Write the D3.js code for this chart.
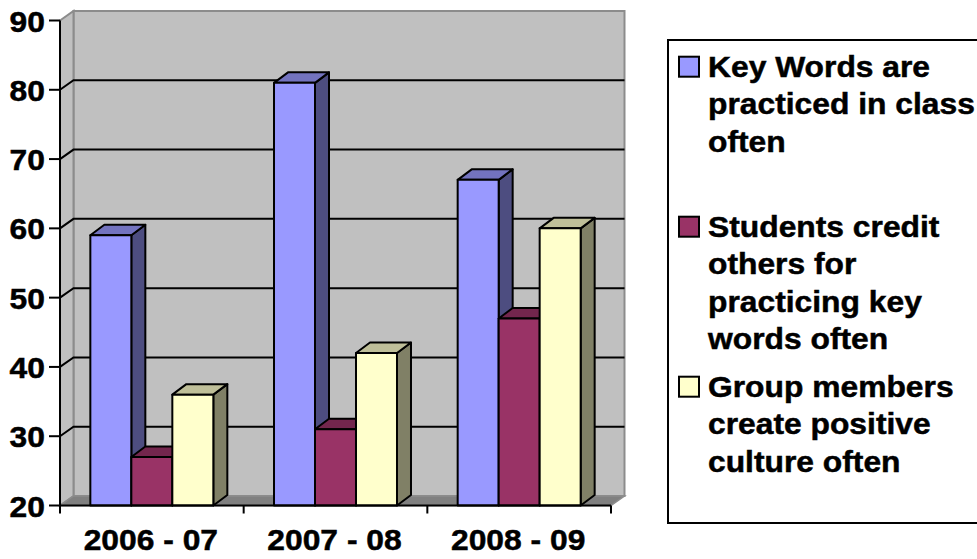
<!DOCTYPE html>
<html>
<head>
<meta charset="utf-8">
<script src="https://cdn.jsdelivr.net/npm/d3@7"></script>
<style>
body { margin: 0; background: #fff; }
text { font-family: "Liberation Sans", Arial, sans-serif; font-weight: bold; font-size: 30px; fill: #000; stroke: #000; stroke-width: 0.5px; }
</style>
</head>
<body>
<div id="chart"></div>
<script>
// chart data
var categories = ["2006 - 07", "2007 - 08", "2008 - 09"];
var seriesNames = [
  ["Key Words are", "practiced in class", "often"],
  ["Students credit", "others for", "practicing key", "words often"],
  ["Group members", "create positive", "culture often"]
];
var keyWords = [59, 81, 67];
var studentsCredit = [27, 31, 47];
var groupMembers = [36, 42, 60];
var yTicks = [20, 30, 40, 50, 60, 70, 80, 90];

var series = [keyWords, studentsCredit, groupMembers];
var front = ["#9999FF", "#993366", "#FFFFCC"];
var topC = ["#7373BF", "#73264D", "#BFBF99"];
var sideC = ["#4D4D80", "#4D1A33", "#808066"];

var width = 977, height = 559;
var svg = d3.select("#chart").append("svg").attr("width", width).attr("height", height);

var left = 60, right = 611, wdx = 13.5, wdy = -9.5; // wall depth
var bdx = 14, bdy = -10.5; // bar depth
var sx = 1.06; // text is a bit wide in the original

var y = d3.scaleLinear().domain([20, 90]).range([505.5, 20.5]);
var x0 = d3.scaleBand().domain(categories).range([left, right]).padding(0);
var x1 = d3.scaleBand().domain([0, 1, 2]).range([0, x0.bandwidth()]).paddingInner(0).paddingOuter(0.74);

var yb = y(20), yt = y(90);

function poly(pts) { return "M" + pts.map(function (p) { return p[0] + "," + p[1]; }).join("L") + "Z"; }
function place(px, py) { return "translate(" + px + "," + py + ") scale(" + sx + ",1)"; }

// walls + floor
svg.append("path").attr("d", poly([[left + wdx, yt + wdy], [right + wdx, yt + wdy], [right + wdx, yb + wdy], [left + wdx, yb + wdy]]))
  .attr("fill", "#C0C0C0").attr("stroke", "#8C8C8C").attr("stroke-width", 2);
svg.append("path").attr("d", poly([[left, yt], [left + wdx, yt + wdy], [left + wdx, yb + wdy], [left, yb]]))
  .attr("fill", "#C0C0C0").attr("stroke", "#8C8C8C").attr("stroke-width", 2);
svg.append("path").attr("d", poly([[left, yb], [left + wdx, yb + wdy], [right + wdx, yb + wdy], [right, yb]]))
  .attr("fill", "#808080").attr("stroke", "#8C8C8C").attr("stroke-width", 1.5);

// gridlines
var grid = yTicks.filter(function (d) { return d > 20 && d < 90; });
svg.append("g").selectAll("path").data(grid).enter().append("path")
  .attr("d", function (d) { return "M" + left + "," + y(d) + "L" + (left + wdx) + "," + (y(d) + wdy) + "L" + (right + wdx) + "," + (y(d) + wdy); })
  .attr("fill", "none").attr("stroke", "#000").attr("stroke-width", 2);

// bars, drawn left to right so right bars cover left sides
var bars = svg.append("g");
categories.forEach(function (c, i) {
  series.forEach(function (s, j) {
    var bx = x0(c) + x1(j), w = x1.bandwidth(), ty = y(s[i]);
    var g = bars.append("g").attr("stroke", "#000").attr("stroke-width", 2).attr("stroke-linejoin", "round");
    g.append("path").attr("d", poly([[bx + w, ty], [bx + w + bdx, ty + bdy], [bx + w + bdx, yb + bdy], [bx + w, yb]])).attr("fill", sideC[j]);
    g.append("path").attr("d", poly([[bx, ty], [bx + bdx, ty + bdy], [bx + w + bdx, ty + bdy], [bx + w, ty]])).attr("fill", topC[j]);
    g.append("rect").attr("x", bx).attr("y", ty).attr("width", w).attr("height", yb - ty).attr("fill", front[j]);
  });
});

// axes
svg.append("line").attr("x1", left).attr("x2", left).attr("y1", yt).attr("y2", yb).attr("stroke", "#000").attr("stroke-width", 2);
svg.append("line").attr("x1", left).attr("x2", right).attr("y1", yb).attr("y2", yb).attr("stroke", "#000").attr("stroke-width", 2);
svg.append("g").selectAll("line").data(yTicks).enter().append("line")
  .attr("x1", 49).attr("x2", left).attr("y1", function (d) { return y(d); }).attr("y2", function (d) { return y(d); })
  .attr("stroke", "#000").attr("stroke-width", 2);
svg.append("g").selectAll("text").data(yTicks).enter().append("text")
  .attr("transform", function (d) { return place(45, y(d) + 11); }).attr("text-anchor", "end").text(function (d) { return d; });

var xt = categories.map(function (c) { return x0(c); }).concat([right]);
svg.append("g").selectAll("line").data(xt).enter().append("line")
  .attr("x1", function (d) { return d; }).attr("x2", function (d) { return d; }).attr("y1", yb).attr("y2", yb + 8)
  .attr("stroke", "#000").attr("stroke-width", 2);
svg.append("g").selectAll("text").data(categories).enter().append("text")
  .attr("transform", function (d) { return place(x0(d) + x0.bandwidth() / 2 - 1, 550); })
  .attr("text-anchor", "middle").text(function (d) { return d; });

// legend
svg.append("rect").attr("x", 668).attr("y", 40).attr("width", 320).attr("height", 483)
  .attr("fill", "#fff").attr("stroke", "#000").attr("stroke-width", 2);
var lg = svg.append("g").selectAll("g").data(seriesNames).enter().append("g")
  .attr("transform", function (d, i) { return "translate(0," + (76.7 + i * 160) + ")"; });
lg.append("rect").attr("x", 679).attr("y", -20).attr("width", 20).attr("height", 20)
  .attr("fill", function (d, i) { return front[i]; }).attr("stroke", "#000").attr("stroke-width", 2);
lg.each(function (lines) {
  d3.select(this).selectAll("text").data(lines).enter().append("text")
    .attr("transform", function (d, k) { return place(708, k * 37.5); }).text(function (d) { return d; });
});
</script>
</body>
</html>
